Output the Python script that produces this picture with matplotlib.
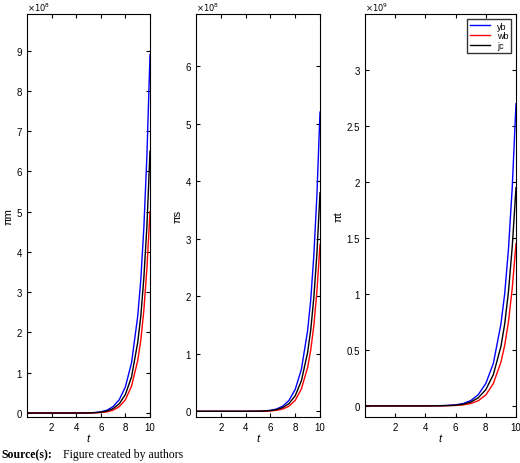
import matplotlib
matplotlib.use("Agg")
import matplotlib.pyplot as plt
import numpy as np

t = [0, 1, 2, 3, 4, 5, 5.5, 6, 6.5, 7, 7.5, 8, 8.5, 9, 9.25, 9.5, 9.75, 10]
# panel 1 (x1e8)
m_yb = [0, 0, 0, 0, 0, 0.005, 0.012, 0.03, 0.07, 0.16, 0.33, 0.65, 1.25, 2.4, 3.3, 4.6, 6.4, 8.9]
m_jc = [0, 0, 0, 0, 0, 0.003, 0.008, 0.02, 0.05, 0.11, 0.23, 0.46, 0.9, 1.75, 2.4, 3.35, 4.65, 6.5]
m_wb = [0, 0, 0, 0, 0, 0.002, 0.005, 0.012, 0.03, 0.07, 0.16, 0.33, 0.67, 1.3, 1.8, 2.55, 3.6, 5.0]
# panel 2 (x1e8)
s_yb = [0, 0, 0, 0, 0, 0.003, 0.007, 0.017, 0.04, 0.09, 0.19, 0.38, 0.73, 1.4, 1.93, 2.7, 3.75, 5.2]
s_jc = [0, 0, 0, 0, 0, 0.002, 0.005, 0.012, 0.03, 0.065, 0.135, 0.27, 0.53, 1.02, 1.41, 1.97, 2.74, 3.8]
s_wb = [0, 0, 0, 0, 0, 0.001, 0.003, 0.007, 0.017, 0.04, 0.09, 0.19, 0.39, 0.76, 1.06, 1.48, 2.08, 2.9]
# panel 3 (x1e9)
p_yb = [0, 0, 0, 0, 0, 0.002, 0.004, 0.009, 0.021, 0.047, 0.1, 0.2, 0.38, 0.73, 1.0, 1.4, 1.95, 2.7]
p_jc = [0, 0, 0, 0, 0, 0.001, 0.003, 0.006, 0.015, 0.034, 0.072, 0.145, 0.28, 0.53, 0.73, 1.02, 1.42, 1.95]
p_wb = [0, 0, 0, 0, 0, 0.001, 0.002, 0.004, 0.009, 0.021, 0.046, 0.097, 0.2, 0.39, 0.54, 0.75, 1.05, 1.45]

series_labels = ["yb", "wb", "jc"]
colors = ["#0000ff", "#ff0000", "#000000"]

fig = plt.figure(figsize=(5.2, 4.64), dpi=100)
plt.rcParams['font.family'] = ['Liberation Sans', 'DejaVu Sans']
panels = [
    ([m_yb, m_wb, m_jc], "πm", (-0.1, 9.9), [0,1,2,3,4,5,6,7,8,9], r"$\times10^8$", 27, 150),
    ([s_yb, s_wb, s_jc], "πs", (-0.1, 6.9), [0,1,2,3,4,5,6], r"$\times10^8$", 196, 320),
    ([p_yb, p_wb, p_jc], "πt", (-0.1, 3.5), [0,0.5,1,1.5,2,2.5,3], r"$\times10^9$", 365, 516),
]
for i, (ser, yl, ylim, yt, mult, x0, x1) in enumerate(panels):
    ax = fig.add_axes([x0/520, 0.099, (x1-x0)/520, 0.868])
    for s, lab, c in zip(ser, series_labels, colors):
        ax.plot(t, s, color=c, lw=1.0, label=lab)
    ax.set_xlim(0, 10)
    ax.set_ylim(*ylim)
    ax.set_xticks([2, 4, 6, 8, 10])
    ax.set_yticks(yt)
    ax.set_yticklabels([f"{v:g}" for v in yt])
    ax.tick_params(labelsize=7, direction='in', length=3, top=True, right=True)
    ax.set_xlabel("t", fontsize=8, style='italic', labelpad=1)
    ax.set_ylabel(yl, fontsize=8, labelpad=2)
    ax.text(0, 1.003, mult, transform=ax.transAxes, fontsize=6, va='bottom')
    if i == 2:
        ax.legend(loc='upper right', fontsize=6.5, handlelength=2.2,
                  fancybox=False, edgecolor='black', borderpad=0.3, labelspacing=0.1)

fig.text(0.002, 0.012, "Source(s):", fontsize=8.5, family='Liberation Serif', weight='bold')
fig.text(0.122, 0.012, "Figure created by authors", fontsize=8.5, family='Liberation Serif')
fig.savefig("out.png", dpi=100)
